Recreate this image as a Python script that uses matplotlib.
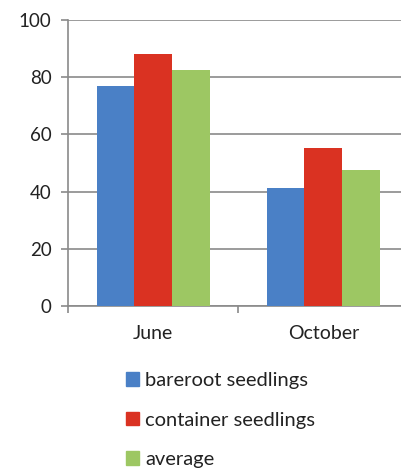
import numpy as np
import matplotlib.pyplot as plt
from matplotlib.patches import Patch

plt.rcParams['font.family'] = ['Lato', 'DejaVu Sans']

months = ['June', 'October']
series = ['bareroot seedlings', 'container seedlings', 'average']
bareroot = [77, 41.4]
container = [88, 55.4]
average = [82.4, 47.6]
colors = ['#4a80c6', '#da3222', '#9dc763']
grid_col = '#8a8a8a'

fig = plt.figure(figsize=(4.01, 4.68), dpi=100)
ax = fig.add_axes([68.3 / 401, 1 - 306 / 468, 340 / 401, 286 / 468])

x = np.arange(len(months))
w = 0.222
for i, (vals, c) in enumerate(zip([bareroot, container, average], colors)):
    ax.bar(x + (i - 1) * w, vals, width=w, color=c, zorder=3)

ax.set_xlim(-0.5, 1.5)
ax.set_ylim(0, 100)
ax.set_yticks(range(0, 101, 20))
ax.yaxis.grid(True, color=grid_col, linewidth=1.2, zorder=0)
ax.set_xticks(x)
ax.set_xticklabels(months)
ax.set_xticks([-0.5, 0.5, 1.5], minor=True)
ax.tick_params(axis='x', which='major', length=0, pad=14, labelsize=14, colors='#222222')
ax.tick_params(axis='x', which='minor', length=5, width=1.2, color=grid_col, direction='out')
ax.tick_params(axis='y', length=5, width=1.2, color=grid_col, pad=7, labelsize=13.5, labelcolor='#222222')

for s in ['top', 'right']:
    ax.spines[s].set_visible(False)
for s in ['left', 'bottom']:
    ax.spines[s].set_color(grid_col)
    ax.spines[s].set_linewidth(1.2)

handles = [Patch(color=c) for c in colors]
fig.legend(handles, series, loc='upper left', bbox_to_anchor=(126 / 401, 1 - 372 / 468),
           frameon=False, fontsize=14.5, handlelength=0.65, handleheight=0.65,
           handletextpad=0.3, labelspacing=1.12, borderpad=0, borderaxespad=0,
           labelcolor='#222222')

fig.savefig('out.png', dpi=100)
